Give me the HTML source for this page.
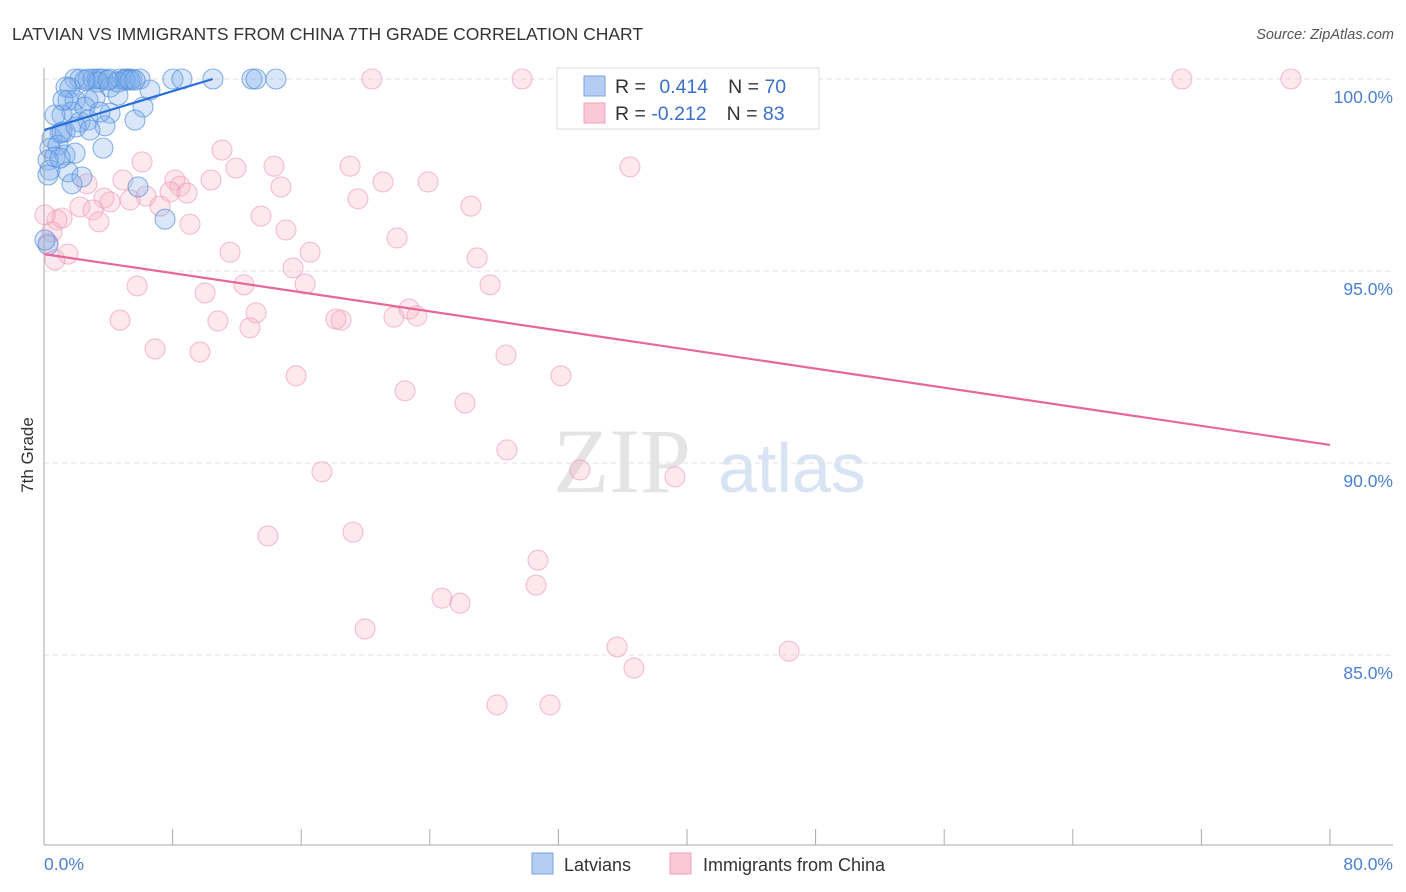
<!DOCTYPE html>
<html><head><meta charset="utf-8"><style>
body{margin:0;background:#fff;font-family:"Liberation Sans",sans-serif}
svg{display:block}
</style></head><body>
<svg id="c" width="1406" height="892">
<text x="12" y="40" font-size="17.5" fill="#333">LATVIAN VS IMMIGRANTS FROM CHINA 7TH GRADE CORRELATION CHART</text>
<text x="1394" y="39" font-size="14.5" fill="#555" font-style="italic" text-anchor="end">Source: ZipAtlas.com</text>
<text transform="translate(33,455) rotate(-90)" font-size="17" fill="#333" text-anchor="middle">7th Grade</text>
<g><text x="553" y="492" font-size="92" font-family="Liberation Serif,serif" fill="#e4e4e4">ZIP</text><text x="718" y="492" font-size="70" fill="#d8e4f4">atlas</text></g>
<g id="grid"></g><g id="marks"></g>
<line x1="44" y1="68" x2="44" y2="845" stroke="#aaa"/>
<line x1="44" y1="845" x2="1393" y2="845" stroke="#aaa"/>
<text x="44" y="870" font-size="17.5" fill="#4a7fd4">0.0%</text>
<text x="1393" y="870" font-size="17.5" fill="#4a7fd4" text-anchor="end">80.0%</text>
<g>
<rect x="557" y="68" width="262" height="61" fill="#fff" stroke="#ddd"/>
<rect x="584" y="76" width="21" height="20" fill="#b5cdf2" stroke="#7aa3e0"/>
<rect x="584" y="103" width="21" height="20" fill="#fac8d6" stroke="#efa2bb"/>
<text x="615" y="93" font-size="19.5" fill="#333">R = <tspan fill="#3a70cc" dx="8">0.414</tspan><tspan dx="20">N = </tspan><tspan fill="#3a70cc">70</tspan></text>
<text x="615" y="120" font-size="19.5" fill="#333">R = <tspan fill="#3a70cc">-0.212</tspan><tspan dx="20">N = </tspan><tspan fill="#3a70cc">83</tspan></text>
</g>
<g>
<rect x="532" y="853" width="21" height="21" fill="#b5cdf2" stroke="#7aa3e0"/>
<text x="564" y="871" font-size="18" fill="#333">Latvians</text>
<rect x="670" y="853" width="21" height="21" fill="#fac8d6" stroke="#efa2bb"/>
<text x="703" y="871" font-size="18" fill="#333">Immigrants from China</text>
</g>
</svg>
<script>
const yTicks=[100,95,90,85];
const yTickLabels=["100.0%","95.0%","90.0%","85.0%"];
const xTicks=[0,8,16,24,32,40,48,56,64,72,80];
const blueX=[1.93,2.24,2.74,3.05,3.30,3.48,3.67,4.11,4.73,5.04,5.23,5.47,5.97,8.02,8.58,10.51,12.94,13.19,14.43,1.37,1.62,4.11,6.59,1.49,1.93,2.74,3.17,4.60,1.12,1.74,2.55,4.11,6.16,0.68,2.24,2.74,3.79,5.66,1.00,0.50,1.31,0.37,0.87,0.68,1.31,3.67,1.93,0.25,0.37,0.25,1.49,1.74,2.36,5.85,7.53,0.25,0.06,1.00,1.12,3.48,5.04,4.60,3.36,3.98,2.55,5.35,5.66,1.99,2.86,1.18];
const blueY=[100,100,100,100,100,100,100,100,100,100,100,100,100,100,100,100,100,100,100,99.79,99.77,99.79,99.71,99.45,99.45,99.45,99.51,99.58,99.06,99.14,99.27,99.11,99.27,99.06,98.88,98.93,98.78,98.93,98.59,98.46,98.62,98.20,98.28,97.97,98.02,98.20,98.07,97.89,97.63,97.50,97.58,97.27,97.45,97.19,96.35,95.68,95.81,97.94,98.62,99.14,99.97,99.92,99.92,99.97,99.97,99.97,99.97,98.75,98.67,99.45];
const pinkX=[20.40,29.74,32.97,70.79,77.57,40.81,11.07,6.10,14.31,19.04,36.45,11.94,4.91,8.15,10.39,21.09,23.89,2.67,8.46,7.84,14.74,6.35,3.73,8.90,4.11,5.35,2.24,7.22,19.53,26.56,13.50,3.05,3.42,9.08,15.05,21.96,0.81,0.50,1.12,11.57,16.55,1.49,26.94,15.49,16.24,27.75,5.79,12.44,10.02,22.71,13.19,18.16,18.48,21.77,23.20,4.73,10.82,12.81,6.91,9.70,28.74,32.16,15.68,22.46,26.19,28.80,17.29,33.34,39.25,13.93,19.22,30.73,30.61,24.76,25.88,19.97,35.65,46.35,36.70,28.18,31.48,0.25,0.68,0.06];
const pinkY=[100,100,100,100,100,100,98.15,97.84,97.73,97.73,97.71,97.68,97.37,97.37,97.37,97.32,97.32,97.27,97.21,97.06,97.19,96.95,96.90,97.03,96.80,96.85,96.67,96.69,96.88,96.69,96.43,96.59,96.28,96.22,96.07,95.86,96.33,96.02,96.38,95.49,95.49,95.44,95.34,95.08,94.66,94.64,94.61,94.64,94.43,94.01,93.91,93.75,93.72,93.80,93.83,93.72,93.70,93.52,92.97,92.89,92.81,92.27,92.27,91.88,91.56,90.34,89.77,89.82,89.64,88.10,88.20,87.47,86.82,86.48,86.35,85.68,85.21,85.10,84.66,83.70,83.70,95.73,95.29,96.46];
const blueTrendX=[0,10.5], blueTrendY=[98.67,100];
const pinkTrendX=[0,80], pinkTrendY=[95.44,90.47];
const NS="http://www.w3.org/2000/svg";
const sx=v=>44+v*16.075, sy=v=>79+(100-v)*38.4;
function mk(t,a,p){const e=document.createElementNS(NS,t);for(const k in a)e.setAttribute(k,a[k]);p.appendChild(e);return e;}
const g=document.getElementById('grid'), m=document.getElementById('marks'), svg=document.getElementById('c');
yTicks.forEach((t,i)=>{
 const l=mk('line',{x1:44,x2:1393,y1:sy(t),y2:sy(t),stroke:'#e2e2e2','stroke-dasharray':'5,4'},g);
 
 
 const tx=mk('text',{x:1393,y:sy(t)+24,'font-size':17.5,fill:'#4a7fd4','text-anchor':'end'},svg);
 tx.textContent=yTickLabels[i];
 
 
});
xTicks.forEach(t=>{
 const l=mk('line',{x1:sx(t),x2:sx(t),y1:829,y2:845,stroke:'#aaa'},svg);
 
 
});
pinkX.forEach((x,i)=>{
 const c=mk('circle',{cx:sx(x),cy:sy(pinkY[i]),r:10,fill:'rgba(248,180,200,0.3)',stroke:'rgba(235,150,180,0.6)','stroke-width':1.1},m);
 
 
});
blueX.forEach((x,i)=>{
 const c=mk('circle',{cx:sx(x),cy:sy(blueY[i]),r:10,fill:'rgba(130,175,235,0.3)',stroke:'rgba(80,140,220,0.65)','stroke-width':1.1},m);
 
 
});
const bt=mk('line',{x1:sx(blueTrendX[0]),y1:sy(blueTrendY[0]),x2:sx(blueTrendX[1]),y2:sy(blueTrendY[1]),stroke:'#2a6fd6','stroke-width':2.2},m);


const pt=mk('line',{x1:sx(pinkTrendX[0]),y1:sy(pinkTrendY[0]),x2:sx(pinkTrendX[1]),y2:sy(pinkTrendY[1]),stroke:'#e8679a','stroke-width':2.2},m);


</script>
</body></html>
